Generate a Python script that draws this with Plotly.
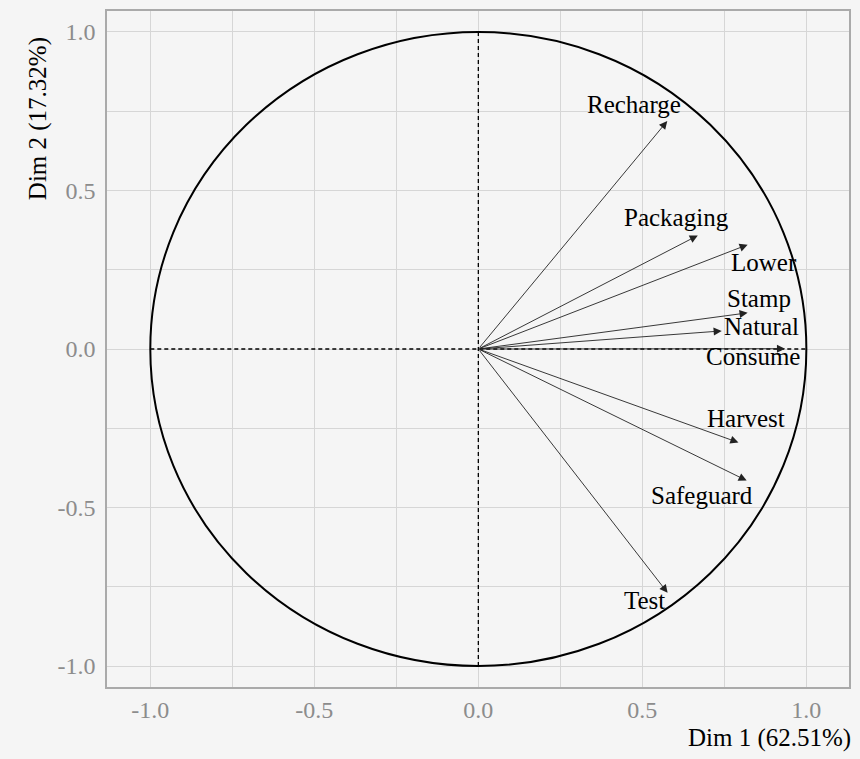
import plotly.graph_objects as go

# Variable coordinates on the first two principal dimensions
variables = ["Recharge", "Packaging", "Lower", "Stamp", "Natural",
             "Consume", "Harvest", "Safeguard", "Test"]
dim1 = [0.576, 0.669, 0.821, 0.821, 0.742, 0.935, 0.793, 0.818, 0.577]
dim2 = [0.719, 0.358, 0.329, 0.114, 0.057, 0.001, -0.295, -0.415, -0.769]

tick_vals = [-1.0, -0.5, 0.0, 0.5, 1.0]
tick_text = ["-1.0", "-0.5", "0.0", "0.5", "1.0"]

x_title = "Dim 1 (62.51%)"
y_title = "Dim 2 (17.32%)"

# Label placement (pixel offsets from each arrow tip)
label_shift = {
    "Recharge": (-33, 17), "Packaging": (-21, 18), "Lower": (16, -18),
    "Stamp": (11, 14), "Natural": (40, 4), "Consume": (-32, -8),
    "Harvest": (8, 24), "Safeguard": (-45, -15), "Test": (-23, -8),
}

BG = "#f5f5f5"
GRID = "#d6d6d6"
FONT = "Liberation Serif"

fig = go.Figure()
# invisible trace so the axes are drawn
fig.add_trace(go.Scatter(x=[0], y=[0], mode="markers",
                         marker=dict(opacity=0), hoverinfo="skip",
                         showlegend=False))

# correlation circle and reference axes
fig.add_shape(type="circle", xref="x", yref="y", x0=-1, y0=-1, x1=1, y1=1,
              line=dict(color="black", width=2))
fig.add_shape(type="line", xref="x", yref="y", x0=-1, y0=0, x1=1, y1=0,
              line=dict(color="black", width=1.3, dash="4px,3px"))
fig.add_shape(type="line", xref="x", yref="y", x0=0, y0=-1, x1=0, y1=1,
              line=dict(color="black", width=1.3, dash="4px,3px"))

for name, x, y in zip(variables, dim1, dim2):
    fig.add_annotation(x=x, y=y, ax=0, ay=0, xref="x", yref="y",
                       axref="x", ayref="y", text="", showarrow=True,
                       arrowhead=2, arrowsize=1.8, arrowwidth=0.9,
                       arrowcolor="#222222", standoff=0, startstandoff=0)
    dx, dy = label_shift[name]
    fig.add_annotation(x=x, y=y, xref="x", yref="y", text=name,
                       showarrow=False, xshift=dx, yshift=dy,
                       font=dict(family=FONT, size=25, color="black"))

fig.add_annotation(text=x_title, xref="paper", yref="paper", x=1.005, y=-0.052,
                   xanchor="right", yanchor="top", showarrow=False,
                   font=dict(family=FONT, size=25, color="black"))
fig.add_annotation(text=y_title, xref="paper", yref="paper", x=-0.093, y=0.965,
                   xanchor="center", yanchor="top", textangle=-90,
                   showarrow=False,
                   font=dict(family=FONT, size=25, color="black"))

axis_common = dict(
    tickvals=tick_vals, ticktext=tick_text, showgrid=True, gridcolor=GRID,
    gridwidth=1, zeroline=False, showline=True, mirror=True,
    linecolor="#aaaaaa", linewidth=1.5, ticks="",
    tickfont=dict(family=FONT, size=24, color="#8c8c8c"),
    minor=dict(tickvals=[-0.75, -0.25, 0.25, 0.75], showgrid=True,
               gridcolor=GRID, gridwidth=1),
)
fig.update_xaxes(range=[-1.132, 1.130], **axis_common)
fig.update_yaxes(range=[-1.066, 1.066], ticklabelstandoff=5, **axis_common)

fig.update_layout(
    width=860, height=759,
    margin=dict(l=107, r=11, t=9, b=72),
    paper_bgcolor=BG, plot_bgcolor=BG,
    showlegend=False,
)

fig.write_html("out.html")
